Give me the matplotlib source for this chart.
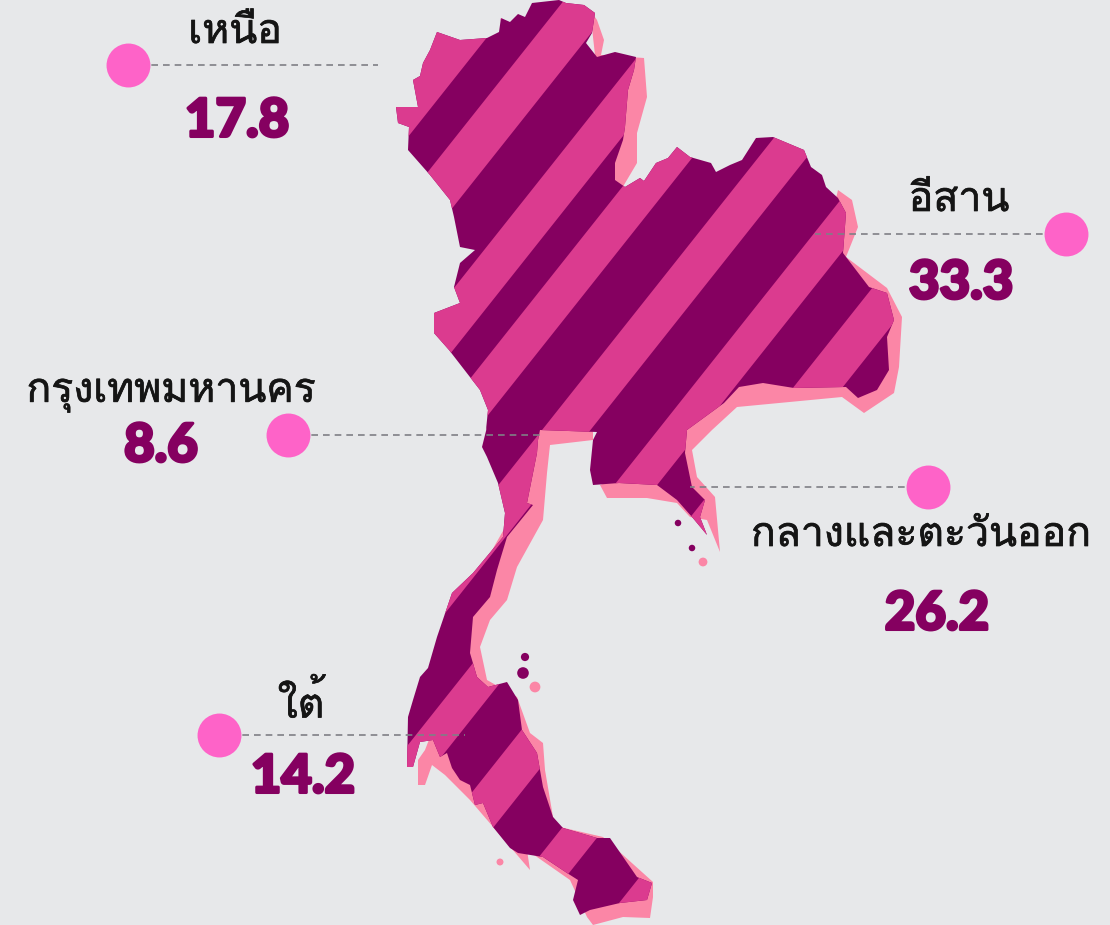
import numpy as np
import matplotlib
matplotlib.use('Agg')
import matplotlib.pyplot as plt
import matplotlib.patheffects as pe
from matplotlib import font_manager
from matplotlib.patches import Polygon

# ตัวเลขแต่ละภาค
regions = ['เหนือ', 'อีสาน', 'กรุงเทพมหานคร', 'กลางและตะวันออก', 'ใต้']
values = ['17.8', '33.3', '8.6', '26.2', '14.2']

# จุด เส้นประ และตำแหน่งข้อความ (พิกัดภาพ)
dot_x = [128, 1066, 288, 928, 219]
dot_y = [65, 234, 435, 487, 735]
line_end_x = [378, 815, 540, 690, 465]
name_x = [235, 959, 171, 921, 301]
name_y = [33, 201, 393, 536, 705]
value_x = [237, 961, 161, 937, 303]
value_y = [121, 283, 446, 614, 777]

# โครงแผนที่
map_outline = [
    (437, 32), (460, 40), (487, 38), (499, 32), (501, 18), (510, 22), (518, 14), (525, 17), (532, 3), (559, 0),
    (566, 3), (584, 5), (595, 13), (592, 33), (586, 43), (597, 57), (615, 52), (636, 57),
    (634, 70), (628, 90), (625, 127), (623, 140), (615, 163), (615, 180), (625, 187),
    (640, 178), (644, 181), (656, 163), (668, 158), (677, 147), (690, 157), (711, 163), (716, 172), (730, 165), (742, 160), (756, 138),
    (773, 137), (804, 150), (811, 167), (822, 175), (826, 187), (838, 198), (846, 213), (843, 253), (869, 287),
    (887, 293), (894, 320), (887, 337), (889, 370), (877, 390), (858, 398), (846, 387),
    (794, 388), (763, 383), (739, 387), (724, 403), (687, 430), (685, 453), (692, 487),
    (705, 500), (700, 517), (707, 535), (692, 517), (677, 500), (657, 485), (619, 483),
    (593, 485), (590, 470), (593, 440), (597, 432), (540, 430), (538, 440), (537, 453),
    (527, 503), (533, 505), (507, 537), (500, 560), (497, 570), (490, 597), (473, 617),
    (470, 653), (477, 677), (488, 687), (507, 682), (518, 700), (522, 730), (537, 753),
    (543, 787), (553, 817), (563, 828), (597, 838), (610, 838), (637, 877), (652, 883),
    (647, 900), (620, 903), (590, 910), (580, 915), (573, 900), (578, 880), (567, 873),
    (543, 857), (518, 853), (510, 848), (493, 827), (483, 803), (475, 805), (470, 785), (460, 780), (452, 768), (447, 753), (440, 757), (433, 740),
    (420, 742), (413, 767), (407, 767), (408, 717), (413, 700), (420, 677), (428, 668), (437, 637), (452, 593),
    (473, 573), (503, 537), (505, 513), (498, 483), (487, 457), (482, 447), (487, 427),
    (486, 430), (488, 410), (480, 390), (449, 350), (434, 333), (434, 313), (460, 303),
    (454, 287), (460, 263), (475, 250), (460, 247), (454, 217), (450, 200), (430, 175), (408, 150),
    (409, 127), (398, 123), (396, 107), (418, 107), (413, 80), (420, 76), (423, 63), (430, 50),
]
shadow_north = [
    (590, 10), (597, 20), (604, 40), (601, 55), (644, 58), (647, 97), (637, 133),
    (637, 163), (621, 190), (600, 170), (600, 100),
]
shadow_east = [
    (838, 190), (852, 200), (858, 227), (846, 257), (887, 288), (902, 317), (899, 367),
    (894, 393), (864, 413), (842, 397), (737, 407), (712, 430), (692, 450),
    (697, 477), (715, 497), (720, 552), (707, 520), (690, 517), (677, 503), (647, 498),
    (607, 498), (600, 485), (640, 470), (700, 400), (800, 350),
]
shadow_south = [
    (593, 432), (593, 440), (550, 445), (547, 473), (543, 520), (517, 567), (507, 600),
    (490, 620), (480, 647), (487, 680), (517, 697), (530, 733), (543, 743), (545, 770),
    (553, 817), (560, 827), (603, 837), (653, 882), (653, 897), (650, 918), (623, 917),
    (593, 925), (587, 917), (570, 880), (527, 850), (530, 870), (470, 800), (445, 775),
    (432, 765), (425, 785), (418, 785), (418, 760), (425, 750), (460, 660), (475, 580),
    (515, 510), (520, 450), (530, 425), (590, 425),
]

# เกาะเล็ก ๆ
island_x = [523, 525, 692, 678]
island_y = [673, 657, 548, 523]
island_size = [70, 35, 22, 22]
shadow_island_x = [535, 703, 500]
shadow_island_y = [687, 562, 862]
shadow_island_size = [60, 40, 25]

# แถบเฉียง: y + 1.26x ที่ขอบแต่ละแถบสีชมพู
stripe_slope = 1.26
pink_stripes = [
    (0, 651), (711, 778), (860, 921), (971, 1030), (1113, 1174), (1259, 1313),
    (1387, 1449), (1536, 1590), (1683, 2200),
]

bg_color = '#e7e8ea'
dark_color = '#850060'
pink_color = '#db3b8f'
shadow_color = '#fb86a6'
dot_color = '#fe63c8'


# หาฟอนต์ที่มีอักษรไทย
def find_thai_font():
    for f in font_manager.fontManager.ttflist:
        try:
            if 0x0E01 in font_manager.get_font(f.fname).get_charmap():
                return f.name
        except Exception:
            pass
    return None


thai_font = find_thai_font()
name_family = [thai_font, 'DejaVu Sans'] if thai_font else ['Noto Sans', 'DejaVu Sans']

fig = plt.figure(figsize=(11.1, 9.25), dpi=100, facecolor=bg_color)
ax = fig.add_axes([0, 0, 1, 1])
ax.set_xlim(0, 1110)
ax.set_ylim(925, 0)
ax.axis('off')

for pts in [shadow_north, shadow_east, shadow_south]:
    ax.add_patch(Polygon(pts, closed=True, fc=shadow_color, ec='none', zorder=1))
ax.scatter(shadow_island_x, shadow_island_y, s=shadow_island_size, color=shadow_color, lw=0, zorder=1)

land = Polygon(map_outline, closed=True, fc=dark_color, ec='none', zorder=2)
ax.add_patch(land)
for lo, hi in pink_stripes:
    xs = np.array([300, 1000])
    band = ax.fill(
        [xs[0], xs[1], xs[1], xs[0]],
        [lo - stripe_slope * xs[0], lo - stripe_slope * xs[1], hi - stripe_slope * xs[1], hi - stripe_slope * xs[0]],
        color=pink_color, lw=0, zorder=3,
    )[0]
    band.set_clip_path(land)
ax.scatter(island_x, island_y, s=island_size, color=dark_color, lw=0, zorder=3)

for i in range(len(regions)):
    ax.plot([dot_x[i], line_end_x[i]], [dot_y[i], dot_y[i]], color='#7f7f86', lw=1.2, dashes=(4, 3), zorder=4)
    ax.scatter(dot_x[i], dot_y[i], s=1000, color=dot_color, lw=0, zorder=5)
    ax.text(name_x[i], name_y[i], regions[i], family=name_family, fontsize=29.5, color='#151515', ha='center', va='center',
            path_effects=[pe.withStroke(linewidth=0.5, foreground='#151515')])
    ax.text(value_x[i], value_y[i], values[i], family='Lato', weight='black', fontsize=38, color=dark_color, ha='center', va='center',
            path_effects=[pe.withStroke(linewidth=2.2, foreground=dark_color)])

fig.savefig('out.png', dpi=100, facecolor=bg_color)
